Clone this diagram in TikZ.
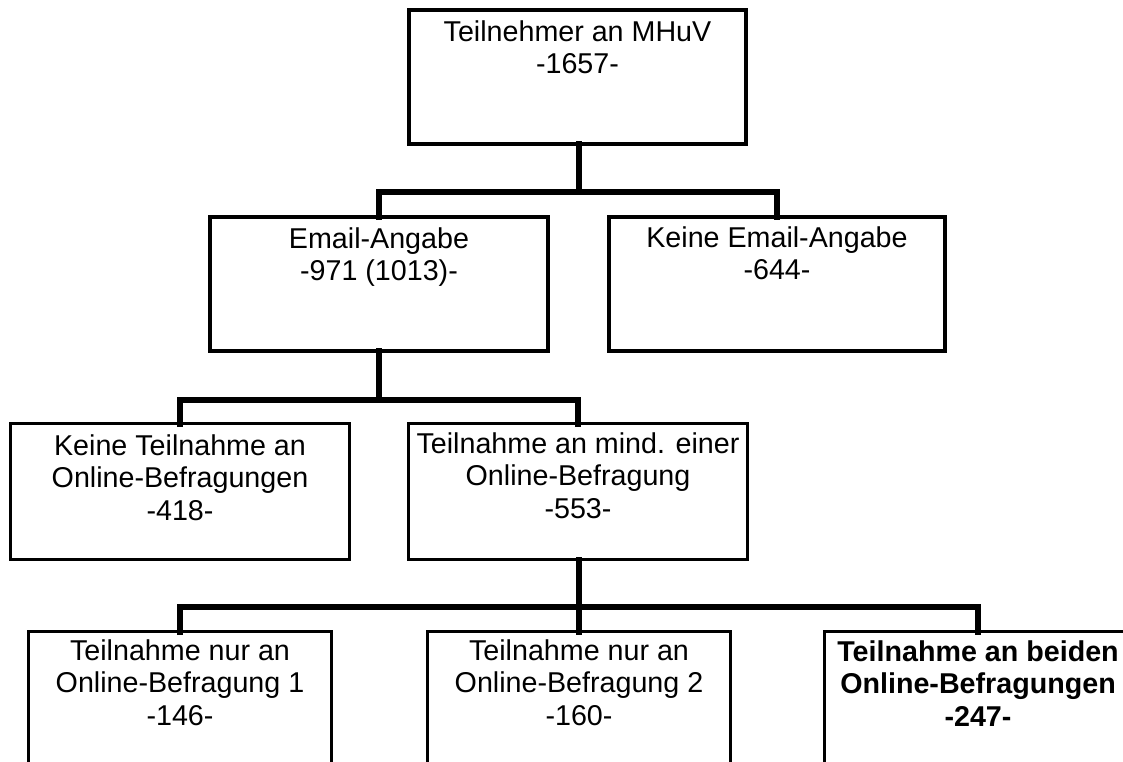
\documentclass[tikz,border=0pt]{standalone}
\usepackage{fontspec}
\setmainfont{Liberation Sans}
\begin{document}
\begin{tikzpicture}[x=0.75pt,y=-0.75pt,
  box/.style={draw=black,fill=white,rectangle,inner sep=0pt,outer sep=0pt,line join=miter},
  boxtop/.style={box,line width=3pt,minimum height=100.5pt},
  boxmid/.style={box,line width=2.5pt,minimum width=254.25pt,minimum height=102pt},
  boxlow/.style={box,line width=2.25pt,minimum height=126.375pt},
  txt/.style={anchor=north,inner sep=0pt,align=center,
    font=\fontsize{21.5}{24.5}\selectfont},
  conn/.style={draw=black,line width=4.5pt,line join=miter,line cap=rect}]
\useasboundingbox (0,0) rectangle (1123,762);
\clip (0,0) rectangle (1123,762);
\fill[white] (0,0) rectangle (1123,762);

% bus levels of the tree
\coordinate (bus1) at (0,192);
\coordinate (bus2) at (0,400);
\coordinate (bus3) at (0,607);

% x positions of the stems leaving the upper boxes
\coordinate (aS) at (578.5,144);
\coordinate (eS) at (578.5,559.5);

% boxes
\node[boxtop,minimum width=252.75pt] (A) at (577.5,77) {};
\node[boxtop,minimum width=253.5pt]  (B) at (379,284) {};
\node[boxtop,minimum width=252pt]    (C) at (777,284) {};
\node[boxmid] (D) at (180,491.5) {};
\node[boxmid] (E) at (578,491.5) {};
\node[boxlow,minimum width=227.25pt] (F1) at (180,715.75) {};
\node[boxlow,minimum width=227.25pt] (F2) at (579,715.75) {};
\node[boxlow,minimum width=230.25pt] (F3) at (978,715.75) {};

% level 1
\draw[conn] (A.south -| aS) -- (aS |- bus1);
\draw[conn] (B.north) -- (B.north |- bus1) -- (C.north |- bus1) -- (C.north);
% level 2
\draw[conn] (B.south) -- (B.south |- bus2);
\draw[conn] (D.north) -- (D.north |- bus2) -- (E.north |- bus2) -- (E.north);
% level 3
\draw[conn] (E.south -| eS) -- (eS |- bus3);
\draw[conn] (F1.north) -- (F1.north |- bus3) -- (F3.north |- bus3) -- (F3.north);
\draw[conn] (F2.north |- bus3) -- (F2.north);

% box texts
\node[txt] (tA) at (577.5,20) {Teilnehmer an MHuV\\-1657-};
\node[txt] (tB) at (379,227) {Email-Angabe\\-971 (1013)-};
\node[txt] (tC) at (777,226) {Keine Email-Angabe\\-644-};
\node[txt] (tD) at (180,434) {Keine Teilnahme an\\Online-Befragungen\\-418-};
\node[txt] (tE) at (578,432) {Teilnahme an mind. einer\\Online-Befragung\\-553-};
\node[txt] (tF1) at (180,639) {Teilnahme nur an\\Online-Befragung 1\\-146-};
\node[txt] (tF2) at (579,639) {Teilnahme nur an\\Online-Befragung 2\\-160-};
\node[txt,font=\fontsize{21.5}{24.5}\selectfont\bfseries] (tF3) at (978,640)
  {Teilnahme an beiden\\Online-Befragungen\\-247-};
\end{tikzpicture}
\end{document}
